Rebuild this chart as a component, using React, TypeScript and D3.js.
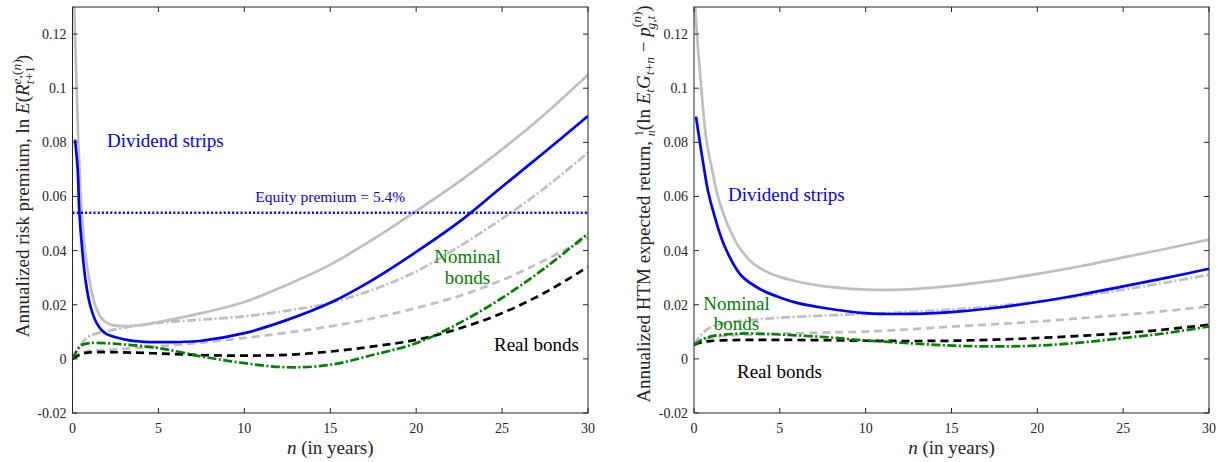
import React from 'react';
import * as d3 from 'd3';

// ---------- data ----------
const X_TICKS = [0, 5, 10, 15, 20, 25, 30];
const Y_TICKS = [-0.02, 0, 0.02, 0.04, 0.06, 0.08, 0.1, 0.12];
const Y_TICK_LABELS = ['-0.02', '0', '0.02', '0.04', '0.06', '0.08', '0.1', '0.12'];
const EQUITY_PREMIUM = 0.054;

const N_GRID = [0, 0.5, 1, 2, 3, 5, 7.5, 10, 12.5, 15, 17.5, 20, 22.5, 25, 27.5, 30];

// Left panel: annualized risk premium
const L_GRAY_STRIP_N = [0.05, 0.105, 0.244, 0.338, 0.437, 0.535, 0.728, 0.96, 1.31, 1.72, 2.2, 3, 4, 5, 7.5, 10, 12.5, 15, 17.5, 20, 22.5, 25, 27.5, 30];
const L_GRAY_STRIP = [0.16, 0.13, 0.1, 0.08, 0.066, 0.0546, 0.04, 0.03, 0.02, 0.0148, 0.0127, 0.0121, 0.0125, 0.0136, 0.0169, 0.021, 0.0274, 0.0348, 0.0442, 0.0546, 0.0655, 0.0774, 0.0905, 0.105];
const L_BLUE_STRIP_N = [0.146, 0.303, 0.396, 0.57, 0.76, 1.02, 1.41, 1.89, 3, 4, 5, 6, 7.5, 10, 12.5, 15, 17.5, 20, 22.5, 25, 27.5, 30];
const L_BLUE_STRIP = [0.081, 0.07, 0.0546, 0.04, 0.029, 0.02, 0.0132, 0.0095, 0.0072, 0.0064, 0.0062, 0.0062, 0.0067, 0.0095, 0.0144, 0.0207, 0.0293, 0.0395, 0.0506, 0.0636, 0.0765, 0.0897];
const L_GRAY_DASHDOT = [0, 0.0055, 0.0085, 0.0102, 0.0115, 0.0133, 0.0145, 0.0157, 0.0178, 0.0207, 0.0256, 0.0323, 0.0415, 0.0518, 0.0632, 0.0762];
const L_GRAY_DASHED = [0, 0.0022, 0.003, 0.0033, 0.0037, 0.0046, 0.006, 0.0077, 0.0097, 0.012, 0.015, 0.0188, 0.0232, 0.0291, 0.0365, 0.0447];
const L_REAL = [0, 0.0018, 0.0024, 0.0025, 0.0024, 0.002, 0.0014, 0.0012, 0.0015, 0.0027, 0.0046, 0.007, 0.0112, 0.0169, 0.0245, 0.034];
const L_NOMINAL = [0, 0.005, 0.0058, 0.0058, 0.0053, 0.004, 0.0009, -0.0016, -0.0031, -0.0022, 0.0015, 0.0058, 0.0132, 0.0225, 0.0336, 0.0463];

// Right panel: annualized HTM expected return
const R_GRAY_STRIP_N = [0.04, 0.076, 0.425, 0.716, 1.05, 1.33, 1.72, 2.2, 2.6, 3.4, 4.35, 5, 6, 7.5, 10, 12.5, 15, 17.5, 20, 22.5, 25, 27.5, 30];
const R_GRAY_STRIP = [0.145, 0.13, 0.1, 0.081, 0.07, 0.0615, 0.0535, 0.0462, 0.0415, 0.0355, 0.0318, 0.0303, 0.0286, 0.0269, 0.0256, 0.0257, 0.027, 0.0289, 0.0314, 0.0342, 0.0375, 0.0407, 0.0441];
const R_BLUE_STRIP_N = [0.116, 0.367, 0.62, 0.815, 1.14, 1.79, 2.75, 3.9, 5, 6, 7.5, 10, 12.5, 15, 17.5, 20, 22.5, 25, 27.5, 30];
const R_BLUE_STRIP = [0.0895, 0.079, 0.069, 0.062, 0.054, 0.0415, 0.0308, 0.0256, 0.0227, 0.0207, 0.0189, 0.0169, 0.0166, 0.0173, 0.0188, 0.021, 0.0237, 0.0268, 0.0299, 0.0333];
const R_GRAY_DASHDOT = [0.0052, 0.0095, 0.0118, 0.0135, 0.0142, 0.0152, 0.016, 0.0166, 0.0173, 0.0182, 0.0195, 0.0212, 0.0232, 0.0256, 0.0282, 0.0311];
const R_GRAY_DASHED = [0.0052, 0.007, 0.0078, 0.0086, 0.0089, 0.0093, 0.0097, 0.0101, 0.0109, 0.0119, 0.0128, 0.0138, 0.015, 0.0163, 0.0177, 0.0194];
const R_REAL = [0.0052, 0.0062, 0.0066, 0.0069, 0.007, 0.007, 0.0069, 0.0067, 0.0066, 0.0067, 0.0071, 0.0077, 0.0085, 0.0095, 0.0109, 0.0126];
const R_NOMINAL = [0.0052, 0.0072, 0.0083, 0.0091, 0.0094, 0.009, 0.0081, 0.0068, 0.0058, 0.0049, 0.0046, 0.0049, 0.006, 0.0077, 0.0095, 0.012];

// ---------- styling ----------
const FONT = 'Liberation Serif, serif';
const GRAY = '#bfbfbf';
const BLUE = '#0000ff';
const GREEN = '#008000';
const AXIS = '#262626';
const TOP = 7;
const BOTTOM = 413;
const L_X0 = 72.5;
const L_X1 = 588;
const R_X0 = 694;
const R_X1 = 1209;
const TICK_FS = 14;
const LABEL_FS = 19;
const SCRIPT_FS = 13.5;
const DASHED = '8,5';
const DASHDOT = '9,2.5,2,2.5';

type Series = { n: number[]; v: number[]; color: string; dash?: string; width?: number };

function zip(n: number[], v: number[]): [number, number][] {
  return n.map((x, i) => [x, v[i]]);
}

function Panel(props: { id: string; x0: number; x1: number; series: Series[]; equity?: boolean; children?: React.ReactNode }) {
  const { id, x0, x1, series, equity, children } = props;
  const x = d3.scaleLinear().domain([0, 30]).range([x0, x1]);
  const y = d3.scaleLinear().domain([-0.02, 0.13]).range([BOTTOM, TOP]);
  const line = d3
    .line<[number, number]>()
    .x((d) => x(d[0]))
    .y((d) => y(d[1]))
    .curve(d3.curveCatmullRom.alpha(0.5));
  const tl = 5;
  return (
    <g>
      <defs>
        <clipPath id={id}>
          <rect x={x0} y={TOP} width={x1 - x0} height={BOTTOM - TOP} />
        </clipPath>
      </defs>
      <g clipPath={`url(#${id})`}>
        {series.map((s, i) => (
          <path
            key={i}
            d={line(zip(s.n, s.v)) || ''}
            fill="none"
            stroke={s.color}
            strokeWidth={s.width ?? 2.7}
            strokeDasharray={s.dash}
          />
        ))}
        {equity && (
          <line
            x1={x(0)}
            x2={x(30)}
            y1={y(EQUITY_PREMIUM)}
            y2={y(EQUITY_PREMIUM)}
            stroke={BLUE}
            strokeWidth={2.5}
            strokeDasharray="2,2.2"
          />
        )}
      </g>
      <rect x={x0} y={TOP} width={x1 - x0} height={BOTTOM - TOP} fill="none" stroke={AXIS} strokeWidth={1} />
      {X_TICKS.map((t) => (
        <g key={'x' + t}>
          <line x1={x(t)} x2={x(t)} y1={BOTTOM} y2={BOTTOM - tl} stroke={AXIS} />
          <line x1={x(t)} x2={x(t)} y1={TOP} y2={TOP + tl} stroke={AXIS} />
          <text x={x(t)} y={433} textAnchor="middle" fontSize={TICK_FS} fill={AXIS}>
            {t}
          </text>
        </g>
      ))}
      {Y_TICKS.map((t, i) => (
        <g key={'y' + t}>
          <line x1={x0} x2={x0 + tl} y1={y(t)} y2={y(t)} stroke={AXIS} />
          <line x1={x1} x2={x1 - tl} y1={y(t)} y2={y(t)} stroke={AXIS} />
          <text x={x0 - 6} y={y(t) + 5} textAnchor="end" fontSize={TICK_FS} fill={AXIS}>
            {Y_TICK_LABELS[i]}
          </text>
        </g>
      ))}
      <text x={(x0 + x1) / 2} y={454} textAnchor="middle" fontSize={LABEL_FS} fill={AXIS}>
        <tspan fontStyle="italic">n</tspan> (in years)
      </text>
      {children}
    </g>
  );
}

export default function App() {
  const leftSeries: Series[] = [
    { n: N_GRID, v: L_GRAY_DASHED, color: GRAY, dash: DASHED },
    { n: N_GRID, v: L_GRAY_DASHDOT, color: GRAY, dash: DASHDOT },
    { n: L_GRAY_STRIP_N, v: L_GRAY_STRIP, color: GRAY },
    { n: N_GRID, v: L_REAL, color: '#000000', dash: DASHED },
    { n: N_GRID, v: L_NOMINAL, color: GREEN, dash: DASHDOT },
    { n: L_BLUE_STRIP_N, v: L_BLUE_STRIP, color: BLUE },
  ];
  const rightSeries: Series[] = [
    { n: N_GRID, v: R_GRAY_DASHED, color: GRAY, dash: DASHED },
    { n: N_GRID, v: R_GRAY_DASHDOT, color: GRAY, dash: DASHDOT },
    { n: R_GRAY_STRIP_N, v: R_GRAY_STRIP, color: GRAY },
    { n: N_GRID, v: R_REAL, color: '#000000', dash: DASHED },
    { n: N_GRID, v: R_NOMINAL, color: GREEN, dash: DASHDOT },
    { n: R_BLUE_STRIP_N, v: R_BLUE_STRIP, color: BLUE },
  ];
  const lx = d3.scaleLinear().domain([0, 30]).range([L_X0, L_X1]);
  return (
    <svg
      width={1225}
      height={462}
      style={{ position: 'absolute', left: 0, top: 0, background: '#fff', fontFamily: FONT }}
      fontFamily={FONT}
    >
      <rect x={0} y={0} width={1225} height={462} fill="#fff" />
      <Panel id="clipL" x0={L_X0} x1={L_X1} series={leftSeries} equity>
        <text x={lx(15)} y={202} textAnchor="middle" fontSize={15.5} fill={BLUE}>
          Equity premium = 5.4%
        </text>
        <text x={107} y={147} fontSize={LABEL_FS} fill={BLUE}>Dividend strips</text>
        <text x={467.5} y={263} textAnchor="middle" fontSize={LABEL_FS} fill={GREEN}>Nominal</text>
        <text x={467.5} y={284} textAnchor="middle" fontSize={LABEL_FS} fill={GREEN}>bonds</text>
        <text x={494} y={351} fontSize={LABEL_FS} fill="#000">Real bonds</text>
        <text transform="translate(29,196) rotate(-90)" textAnchor="middle" fontSize={LABEL_FS} fill={AXIS}>
          Annualized risk premium, ln <tspan fontStyle="italic">E</tspan>(<tspan fontStyle="italic">R</tspan>
          <tspan fontSize={SCRIPT_FS} dy={-8} fontStyle="italic">e</tspan>
          <tspan fontSize={SCRIPT_FS}>,(</tspan>
          <tspan fontSize={SCRIPT_FS} fontStyle="italic">n</tspan>
          <tspan fontSize={SCRIPT_FS}>)</tspan>
          <tspan fontSize={SCRIPT_FS} dx={-25} dy={13} fontStyle="italic">t</tspan>
          <tspan fontSize={SCRIPT_FS}>+1</tspan>
          <tspan dy={-5} dx={5}>)</tspan>
        </text>
      </Panel>
      <Panel id="clipR" x0={R_X0} x1={R_X1} series={rightSeries}>
        <text x={728} y={201} fontSize={LABEL_FS} fill={BLUE}>Dividend strips</text>
        <text x={736.5} y={310} textAnchor="middle" fontSize={LABEL_FS} fill={GREEN}>Nominal</text>
        <text x={736.5} y={330} textAnchor="middle" fontSize={LABEL_FS} fill={GREEN}>bonds</text>
        <text x={737} y={378} fontSize={LABEL_FS} fill="#000">Real bonds</text>
        <text transform="translate(650,204) rotate(-90)" textAnchor="middle" fontSize={LABEL_FS} fill={AXIS}>
          Annualized HTM expected return,{' '}
          <tspan fontSize={12} dy={-7}>1</tspan>
          <tspan fontSize={12} dx={-6} dy={12} fontStyle="italic">n</tspan>
          <tspan dy={-5}>(ln </tspan>
          <tspan fontStyle="italic">E</tspan>
          <tspan fontSize={SCRIPT_FS} dy={4} fontStyle="italic">t</tspan>
          <tspan dy={-4} fontStyle="italic">G</tspan>
          <tspan fontSize={SCRIPT_FS} dy={4} fontStyle="italic">t</tspan>
          <tspan fontSize={SCRIPT_FS}>+</tspan>
          <tspan fontSize={SCRIPT_FS} fontStyle="italic">n</tspan>
          <tspan dy={-4}> − </tspan>
          <tspan fontStyle="italic">p</tspan>
          <tspan fontSize={SCRIPT_FS} dy={-9}>(</tspan>
          <tspan fontSize={SCRIPT_FS} fontStyle="italic">n</tspan>
          <tspan fontSize={SCRIPT_FS}>)</tspan>
          <tspan fontSize={SCRIPT_FS} dx={-18} dy={14} fontStyle="italic">g,t</tspan>
          <tspan dy={-5} dx={4}>)</tspan>
        </text>
      </Panel>
    </svg>
  );
}
